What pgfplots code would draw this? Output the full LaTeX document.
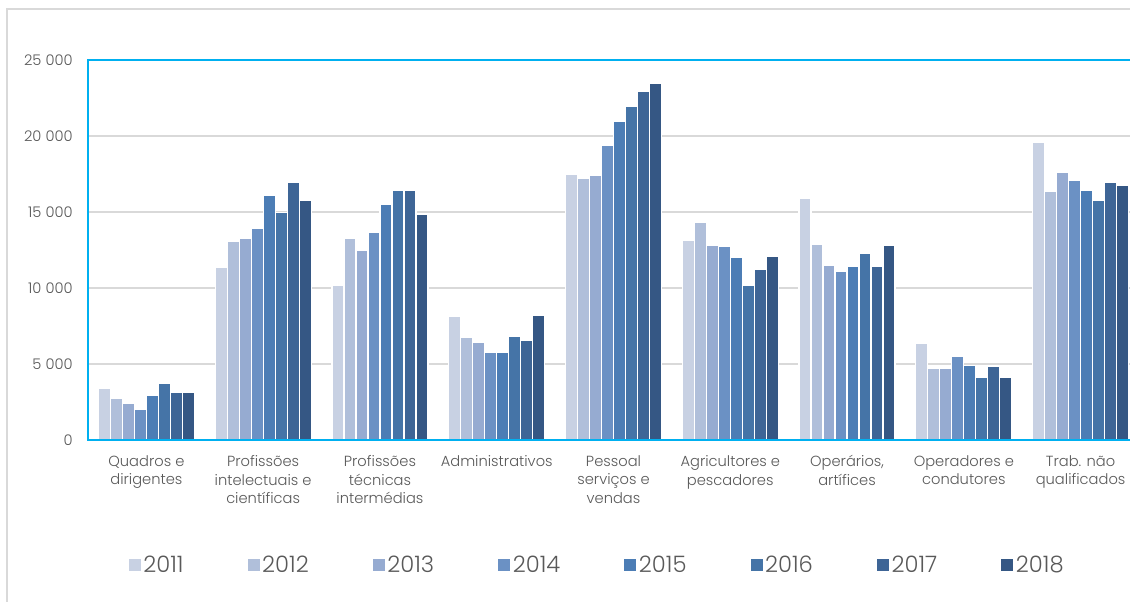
\documentclass[border=0pt]{standalone}
\usepackage{pgfplots}
\pgfplotsset{compat=1.18}
\usepackage{pgfplotstable}
\usepackage{fontspec}
\IfFontExistsTF{Poppins Light}{\setmainfont{Poppins Light}}{\setmainfont{Poppins}}
\definecolor{c1}{RGB}{200,209,227}
\definecolor{c2}{RGB}{176,191,218}
\definecolor{c3}{RGB}{150,171,209}
\definecolor{c4}{RGB}{107,145,196}
\definecolor{c5}{RGB}{76,125,181}
\definecolor{c6}{RGB}{69,116,167}
\definecolor{c7}{RGB}{62,101,150}
\definecolor{c8}{RGB}{53,87,132}
\definecolor{axcyan}{RGB}{0,176,240}
\definecolor{gridg}{RGB}{217,217,217}
\definecolor{txt}{RGB}{89,89,89}
\pgfplotstableread{
x a b c d e f g h
0 3420 2760 2430 1990 2910 3700 3150 3150
1 11380 13070 13280 13920 16070 14970 16960 15740
2 10200 13280 12490 13660 15470 16440 16390 14810
3 8100 6720 6440 5740 5780 6790 6530 8210
4 17460 17180 17420 19370 20990 21930 22940 23460
5 13130 14290 12820 12740 11990 10200 11250 12060
6 15900 12870 11510 11080 11450 12260 11450 12830
7 6370 4730 4730 5520 4880 4090 4840 4090
8 19590 16330 17600 17070 16420 15740 16920 16740
}\data
\begin{document}
\begin{tikzpicture}
\begin{scope}
\clip (0pt,0pt) rectangle (847.5pt,451.5pt);
\fill[white] (0pt,0pt) rectangle (847.5pt,451.5pt);
\draw[gridg, line width=1.5pt] (5.25pt,0pt) -- (5.25pt,444.75pt) -- (847.5pt,444.75pt);
\begin{axis}[
  at={(66pt,121.5pt)}, anchor=south west, scale only axis,
  width=788.25pt, height=285pt,
  ybar=0pt, bar width=9pt,
  xmin=-0.5, xmax=8.5, ymin=0, ymax=25000,
  xtick={0,...,8},
  xticklabels={{Quadros e\\dirigentes},{Profissões\\intelectuais e\\científicas},{Profissões\\técnicas\\intermédias},{Administrativos},{Pessoal\\serviços e\\vendas},{Agricultores e\\pescadores},{Operários,\\artífices},{Operadores e\\condutores},{Trab. não\\qualificados}},
  ytick={0,5000,10000,15000,20000,25000},
  yticklabels={0,5 000,10 000,15 000,20 000,25 000},
  scaled y ticks=false,
  ymajorgrids, grid style={gridg, line width=1.2pt},
  axis line style={axcyan, line width=1.5pt},
  tick style={draw=none}, major tick length=0pt,
  tick label style={font=\fontsize{11}{14}\selectfont, text=txt},
  xticklabel style={align=center, anchor=north, yshift=-8pt},
  yticklabel style={anchor=east, xshift=-8pt},
  legend style={at={(0.4848,-0.329)}, anchor=center, draw=none, fill=none,
    font=\fontsize{17}{20}\selectfont, text=txt, inner sep=0pt,
    /tikz/every even column/.append style={column sep=46pt}},
  legend columns=8,
  legend image code/.code={\fill[#1,draw=none] (0pt,-4.5pt) rectangle (9pt,4.5pt);},
  every axis plot/.append style={draw=white, line width=0.9pt},
]
\addplot[fill=c1] table[x=x,y=a]{\data};
\addplot[fill=c2] table[x=x,y=b]{\data};
\addplot[fill=c3] table[x=x,y=c]{\data};
\addplot[fill=c4] table[x=x,y=d]{\data};
\addplot[fill=c5] table[x=x,y=e]{\data};
\addplot[fill=c6] table[x=x,y=f]{\data};
\addplot[fill=c7] table[x=x,y=g]{\data};
\addplot[fill=c8] table[x=x,y=h]{\data};
\legend{2011,2012,2013,2014,2015,2016,2017,2018}
\draw[axcyan, line width=1.5pt] (rel axis cs:0,0) -- (rel axis cs:1,0);
\end{axis}
\end{scope}
\pgfresetboundingbox
\path[use as bounding box] (0pt,0pt) rectangle (847.5pt,451.5pt);
\end{tikzpicture}
\end{document}
